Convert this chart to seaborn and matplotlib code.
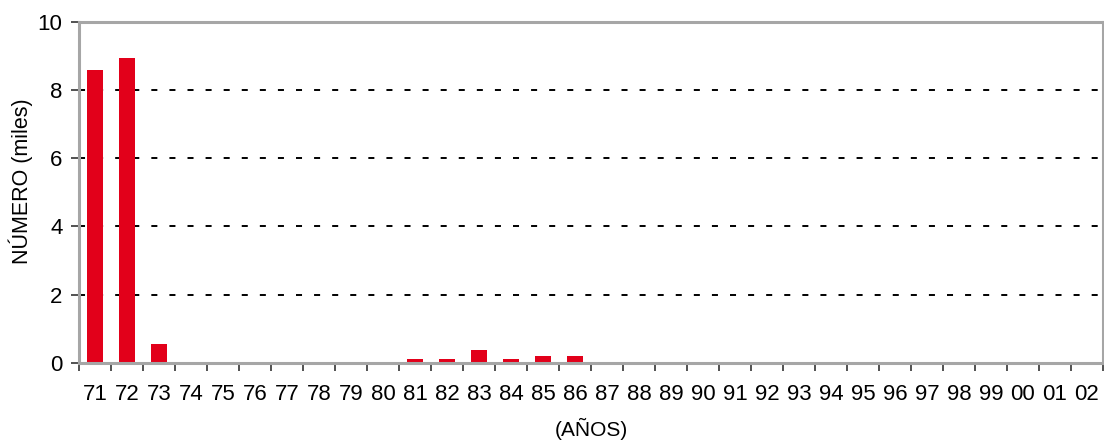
import matplotlib
matplotlib.use("Agg")
import matplotlib.pyplot as plt
import seaborn as sns
import pandas as pd

# Annual counts (thousands), 1971-2002
years = ["71", "72", "73", "74", "75", "76", "77", "78", "79", "80",
         "81", "82", "83", "84", "85", "86", "87", "88", "89", "90",
         "91", "92", "93", "94", "95", "96", "97", "98", "99", "00",
         "01", "02"]
counts = [8.58, 8.93, 0.56, 0, 0, 0, 0, 0, 0, 0,
          0.11, 0.11, 0.37, 0.11, 0.20, 0.20, 0, 0, 0, 0,
          0, 0, 0, 0, 0, 0, 0, 0, 0, 0,
          0, 0]
y_ticks = [0, 2, 4, 6, 8, 10]

df = pd.DataFrame({"year": years, "count": counts})

sns.set_style("white")
plt.rcParams["font.family"] = ["Liberation Sans", "DejaVu Sans"]
plt.rcParams["text.color"] = "black"
plt.rcParams["axes.labelcolor"] = "black"
plt.rcParams["xtick.color"] = "black"
plt.rcParams["ytick.color"] = "black"

fig = plt.figure(figsize=(11.04, 4.44), dpi=100)
ax = fig.add_axes([0.0716, 0.1824, 0.9274, 0.7690])

sns.barplot(data=df, x="year", y="count", order=years, color="#E2001A",
            width=0.5, saturation=1, linewidth=0, ax=ax, zorder=3)

ax.set_xlim(-0.5, len(years) - 0.5)
ax.set_ylim(0, 10)
ax.set_yticks(y_ticks)
ax.set_yticklabels([str(t) for t in y_ticks], fontsize=16)

# dashed grid lines at interior y ticks
for t in y_ticks[1:-1]:
    ax.axhline(t, color="black", lw=1.4, ls=(0, (3.1, 6.2)), zorder=1)

# x ticks sit between categories, labels at centres
ax.set_xticks(list(range(len(years))))
ax.set_xticklabels(years, fontsize=16)
ax.tick_params(axis="x", which="major", bottom=True, length=0, pad=15)
ax.set_xticks([i - 0.5 for i in range(len(years) + 1)], minor=True)
ax.tick_params(axis="x", which="minor", bottom=True, length=6, width=1.2,
               color="#333333", direction="out")
ax.tick_params(axis="y", left=True, length=6, width=1.2, color="#333333",
               direction="out", pad=6)

for s in ax.spines.values():
    s.set_visible(True)
    s.set_color("#A6A6A6")
    s.set_linewidth(2.2)
    s.set_zorder(4)

ax.set_xlabel("(AÑOS)", fontsize=15)
ax.set_ylabel("NÚMERO (miles)", fontsize=15.5)
ax.yaxis.set_label_coords(-0.045, 0.532)
ax.xaxis.set_label_coords(0.5, -0.162)

fig.savefig("out.png", dpi=100)
